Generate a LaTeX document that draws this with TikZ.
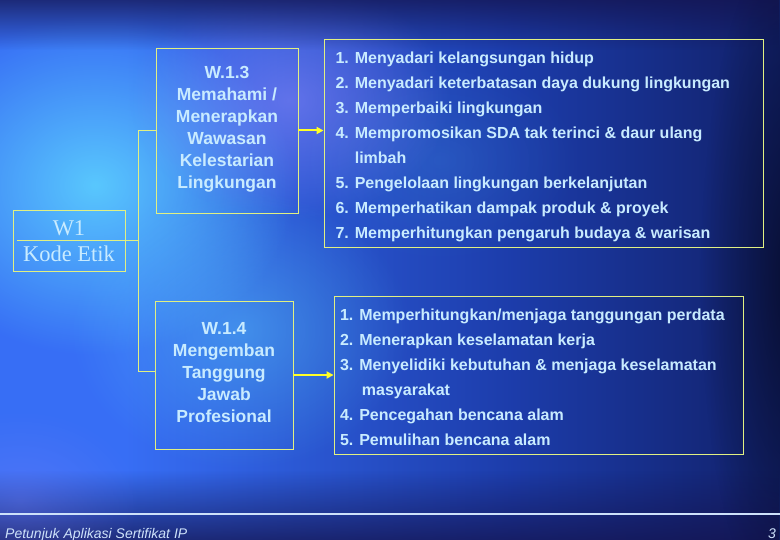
\documentclass[tikz,border=0pt]{standalone}
\usepackage{fontspec}
\setmainfont{Liberation Sans}
\newfontfamily\wserif{Liberation Serif}
\usetikzlibrary{arrows.meta,fadings}
\definecolor{txt}{RGB}{200,235,255}
\definecolor{frame}{RGB}{225,240,130}
\definecolor{arr}{RGB}{255,255,40}
\definecolor{bgA}{RGB}{55,110,245}
\definecolor{bgM}{RGB}{28,60,170}
\definecolor{bgR}{RGB}{14,24,85}
\definecolor{bgC}{RGB}{5,8,30}
\definecolor{topc}{RGB}{20,20,80}
\definecolor{glow}{RGB}{95,215,255}
\definecolor{violet}{RGB}{150,140,255}
\definecolor{foot}{RGB}{205,225,250}
\pgfdeclarehorizontalshading{bgshade}{100bp}{color(0bp)=(bgA); color(33bp)=(bgA); color(58bp)=(bgM); color(80bp)=(bgR); color(100bp)=(bgC)}
\tikzfading[name=glowfade, inner color=transparent!0, outer color=transparent!100]
\tikzfading[name=fadedown, top color=transparent!0, bottom color=transparent!100]
\tikzfading[name=fadeup, top color=transparent!100, bottom color=transparent!0]
\begin{document}
\begin{tikzpicture}[x=1pt,y=-1pt,
  wbox/.style={draw=frame, line width=0.9pt, inner sep=0pt},
  wtext/.style={text=txt, font=\bfseries\fontsize{17.5}{22}\selectfont, align=center},
  listtext/.style={text=txt, font=\bfseries\fontsize{16}{25}\selectfont, align=left},
  link/.style={draw=frame, line width=0.9pt},
  arrowlink/.style={draw=arr, line width=2pt, -{Triangle[length=7pt,width=7pt]}},
  foottext/.style={text=foot, font=\itshape\fontsize{14}{16}\selectfont, inner sep=0pt},
]
% background
\useasboundingbox (0,0) rectangle (780,540);
\shade[shading=bgshade] (0,0) rectangle (780,540);
\fill[glow, opacity=0.85, path fading=glowfade] (95,185) ellipse (200 and 170);
\fill[violet, opacity=0.5, path fading=glowfade] (290,100) ellipse (160 and 120);
\fill[glow, opacity=0.4, path fading=glowfade] (240,330) ellipse (170 and 140);
\fill[glow, opacity=0.12, path fading=glowfade] (440,160) ellipse (140 and 100);
\fill[topc, opacity=0.75, path fading=fadedown] (0,0) rectangle (780,50);
\fill[topc, opacity=0.75, path fading=fadeup] (0,470) rectangle (780,540);
\fill[violet, opacity=0.25, path fading=glowfade] (20,500) ellipse (120 and 90);
\fill[bgC, opacity=0.7, path fading=glowfade] (790,280) ellipse (90 and 340);

% nodes
\node[wbox, minimum width=112, minimum height=61] (w1) at (69,240.5) {};
\node[text=txt, font=\wserif\fontsize{22.5}{26}\selectfont, align=center] (w1t) at (69,241) {W1\\Kode Etik};
\node[wbox, minimum width=142, minimum height=165] (w13) at (227,130.5) {};
\node[wtext] (w13t) at (227,129.5) {W.1.3\\Memahami /\\Menerapkan\\Wawasan\\Kelestarian\\Lingkungan};
\node[wbox, minimum width=138, minimum height=148] (w14) at (224,375) {};
\node[wtext] (w14t) at (224,372.5) {W.1.4\\Mengemban\\Tanggung\\Jawab\\Profesional};

\node[wbox, minimum width=439, minimum height=208] (l1) at (543.5,143) {};
\node[listtext, anchor=north west] (l1t) at (332,48) {%
1. Menyadari kelangsungan hidup\\
2. Menyadari keterbatasan daya dukung lingkungan\\
3. Memperbaiki lingkungan\\
4. Mempromosikan SDA tak terinci \& daur ulang\\
\phantom{4. }limbah\\
5. Pengelolaan lingkungan berkelanjutan\\
6. Memperhatikan dampak produk \& proyek\\
7. Memperhitungkan pengaruh budaya \& warisan};

\node[wbox, minimum width=409, minimum height=158] (l2) at (538.5,375) {};
\node[listtext, anchor=north west] (l2t) at (336.5,305) {%
1. Memperhitungkan/menjaga tanggungan perdata\\
2. Menerapkan keselamatan kerja\\
3. Menyelidiki kebutuhan \& menjaga keselamatan\\
\phantom{3. }\,masyarakat\\
4. Pencegahan bencana alam\\
5. Pemulihan bencana alam};

% connectors
\coordinate (div) at (17,240);
\coordinate (bus) at (138,240);
\draw[link] (div) -- (bus);
\draw[link] (bus) |- (w13.west);
\draw[link] (bus) |- ([yshift=4pt]w14.west);
\draw[arrowlink] (w13.east) -- (w13.east -| l1.west);
\draw[arrowlink] (w14.east |- l2.west) -- (l2.west);

% footer
\coordinate (fl) at (0,514);
\coordinate (fr) at (780,514);
\draw[draw=foot, line width=2pt] (fl) -- (fr);
\node[foottext, anchor=base west] (ft) at (5,538) {Petunjuk Aplikasi Sertifikat IP};
\node[foottext, anchor=base east] (pg) at (776,538) {3};
\end{tikzpicture}
\end{document}
